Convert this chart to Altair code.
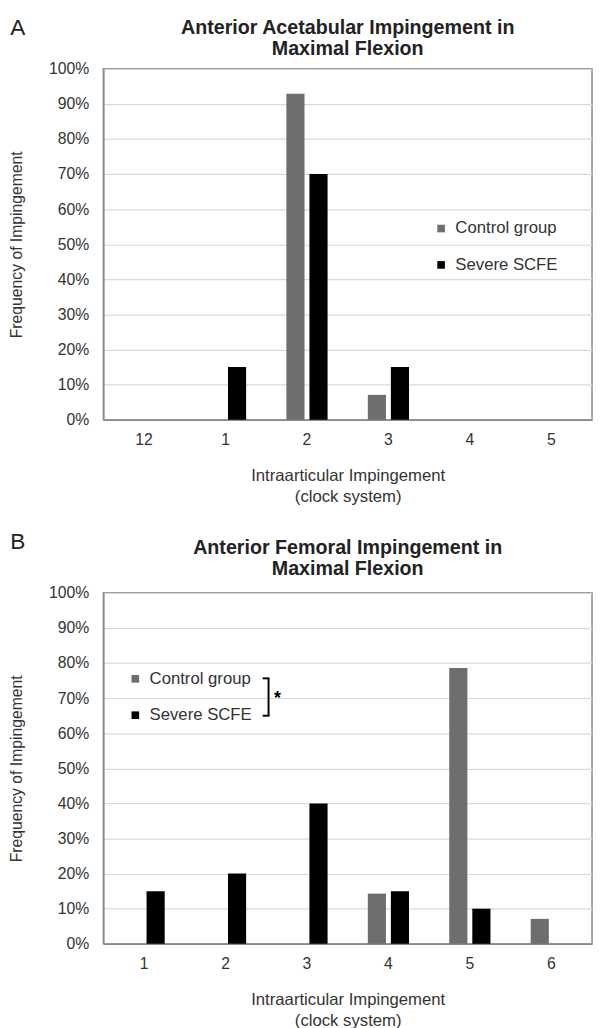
import altair as alt
import pandas as pd

groups = ["Control group", "Severe SCFE"]
colors = ["#6e6e6e", "#000000"]

cats_a = ["12", "1", "2", "3", "4", "5"]
control_a = [0.0, 0.0, 0.929, 0.071, 0.0, 0.0]
severe_a = [0.0, 0.15, 0.70, 0.15, 0.0, 0.0]

cats_b = ["1", "2", "3", "4", "5", "6"]
control_b = [0.0, 0.0, 0.0, 0.143, 0.786, 0.071]
severe_b = [0.15, 0.20, 0.40, 0.15, 0.10, 0.0]

y_ticks = [i / 10 for i in range(11)]
x_title = ["Intraarticular Impingement", "(clock system)"]
y_title = "Frequency of Impingement"
title_a = ["Anterior Acetabular Impingement in", "Maximal Flexion"]
title_b = ["Anterior Femoral Impingement in", "Maximal Flexion"]

FONT = "Liberation Sans"
W, H = 497, 357
TXT = "#333333"
BORDER = "#8a8a8a"


def frame(cats, control, severe):
    rows = []
    for c, v in zip(cats, control):
        rows.append({"pos": c, "group": groups[0], "freq": v})
    for c, v in zip(cats, severe):
        rows.append({"pos": c, "group": groups[1], "freq": v})
    return pd.DataFrame(rows)


def panel(letter, title, cats, control, severe, lx, ly, letter_y, title_dy, bracket=False):
    df = frame(cats, control, severe)
    bars = alt.Chart(df).mark_bar().encode(
        x=alt.X("pos:N", sort=cats,
                scale=alt.Scale(domain=cats, paddingInner=0.494, paddingOuter=0.247),
                axis=alt.Axis(title=x_title, labelAngle=0, ticks=False, grid=False,
                              labelPadding=12, titlePadding=21, titleFontSize=17,
                              titleLineHeight=21)),
        xOffset=alt.XOffset("group:N", sort=groups,
                            scale=alt.Scale(domain=groups, paddingInner=0.213, paddingOuter=0)),
        y=alt.Y("freq:Q", scale=alt.Scale(domain=[0, 1]),
                axis=alt.Axis(values=y_ticks, format=".0%", title=y_title, ticks=False,
                              grid=True, gridColor="#d9d9d9", gridWidth=1.2,
                              labelPadding=15, minExtent=57, maxExtent=57, titlePadding=23,
                              titleFontSize=16)),
        color=alt.Color("group:N", scale=alt.Scale(domain=groups, range=colors),
                        legend=alt.Legend(title=None, orient="none", legendX=lx, legendY=ly,
                                          symbolType="square", symbolSize=60, symbolStrokeWidth=0,
                                          labelFontSize=17, labelFont=FONT, labelColor=TXT,
                                          labelOffset=6, rowPadding=19, padding=0)),
    )
    lab = alt.Chart(pd.DataFrame({"t": [letter]})).mark_text(
        font=FONT, fontSize=23, color="#222222", align="center", baseline="middle"
    ).encode(text="t:N", x=alt.value(-87), y=alt.value(letter_y))
    layers = [bars, lab]
    if bracket:
        rule_df = pd.DataFrame({"k": [0]})
        vline = alt.Chart(rule_df).mark_rule(color="black", strokeWidth=2).encode(
            x=alt.value(168), y=alt.value(87), y2=alt.value(125))
        top = alt.Chart(rule_df).mark_rule(color="black", strokeWidth=2).encode(
            x=alt.value(162), x2=alt.value(169), y=alt.value(87))
        bot = alt.Chart(rule_df).mark_rule(color="black", strokeWidth=2).encode(
            x=alt.value(162), x2=alt.value(169), y=alt.value(125))
        star = alt.Chart(pd.DataFrame({"t": ["*"]})).mark_text(
            font=FONT, fontSize=18, fontWeight="bold", color="black", align="center",
            baseline="middle").encode(text="t:N", x=alt.value(177), y=alt.value(108))
        layers += [vline, top, bot, star]
    return alt.layer(*layers).properties(
        width=W, height=H, title=alt.Title(title, dy=title_dy))


a = panel("A", title_a, cats_a, control_a, severe_a, 335, 154, -41, 50)
b = panel("B", title_b, cats_b, control_b, severe_b, 24, 79, -52, 57, bracket=True)

chart = alt.vconcat(a, b, spacing=25).resolve_scale(color="independent").resolve_legend(
    color="independent"
).properties(
    padding={"left": 0, "top": 0, "right": 0, "bottom": 0}, background="white"
).configure_view(
    stroke=BORDER, strokeWidth=1.5
).configure_axis(
    labelFont=FONT, titleFont=FONT, labelFontSize=16, titleFontSize=16,
    labelColor=TXT, titleColor=TXT, domainColor=BORDER, domainWidth=1.5,
    titleFontWeight="normal"
).configure_title(
    font=FONT, fontSize=20, fontWeight="bold", color="#222222", offset=8, lineHeight=21
)

chart.save("out.html", embed_options={"renderer": "svg", "actions": False})
